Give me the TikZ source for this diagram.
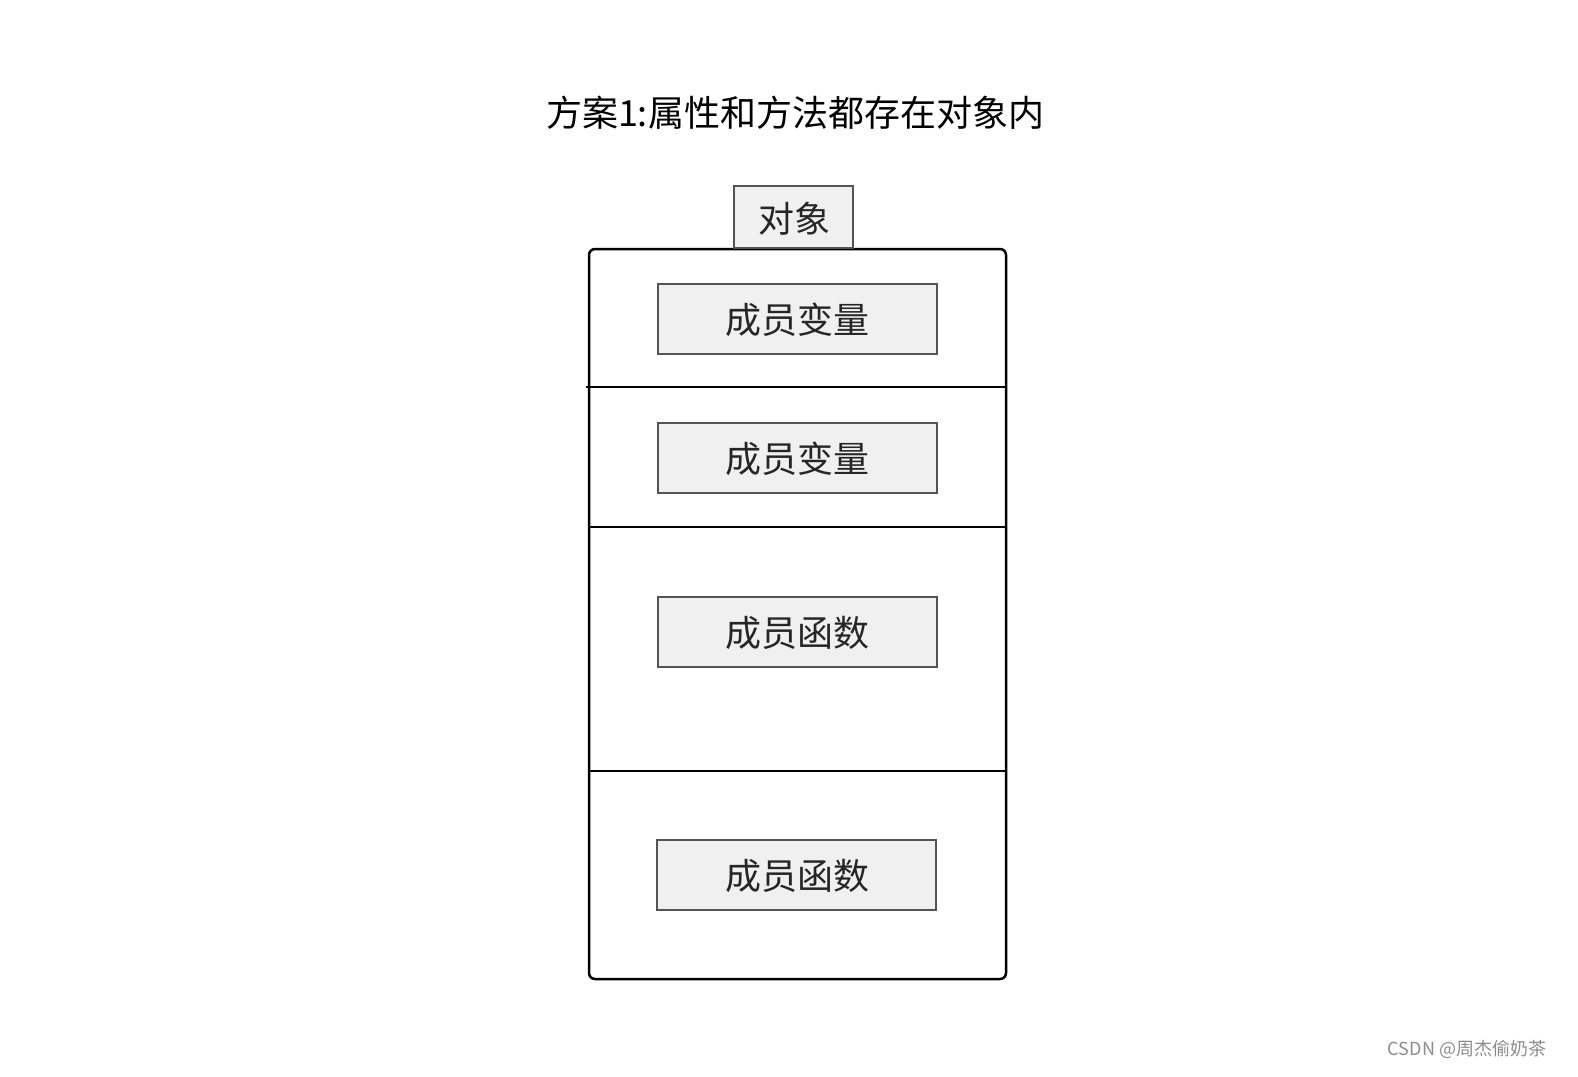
\documentclass[tikz,border=0pt]{standalone}
\usepackage{fontspec}
\newfontfamily\cjk{Noto Sans CJK SC}
\begin{document}
\begin{tikzpicture}[x=1pt,y=-1pt,
  inbox/.style={draw=black!67,line width=2.5pt,fill=black!6,inner sep=0pt},
  lbl/.style={font=\cjk\fontsize{36}{40}\selectfont,text=black!85}]
\useasboundingbox (0,0) rectangle (1578,1076);
\node[lbl,text=black] (title) at (795,113) {方案1:属性和方法都存在对象内};
\draw[line width=2.5pt,rounded corners=6pt] (589,249) rectangle (1006,979);
\coordinate (d1l) at (586,387); \coordinate (d1r) at (1006,387);
\coordinate (d2l) at (589,527); \coordinate (d2r) at (1006,527);
\coordinate (d3l) at (589,771); \coordinate (d3r) at (1006,771);
\draw[line width=2.5pt] (d1l)--(d1r) (d2l)--(d2r) (d3l)--(d3r);
\draw[inbox] (734,186) rectangle (853,248);
\node[lbl] (tab) at (794,219) {对象};
\draw[inbox] (658,284) rectangle (937,354); \node[lbl] (b1) at (797,320) {成员变量};
\draw[inbox] (658,423) rectangle (937,493); \node[lbl] (b2) at (797,459) {成员变量};
\draw[inbox] (658,597) rectangle (937,667); \node[lbl] (b3) at (797,633) {成员函数};
\draw[inbox] (657,840) rectangle (936,910); \node[lbl] (b4) at (797,876) {成员函数};
\node[font=\cjk\fontsize{18}{20}\selectfont,text=black!45] (wm) at (1467,1049) {CSDN @周杰偷奶茶};
\end{tikzpicture}
\end{document}
